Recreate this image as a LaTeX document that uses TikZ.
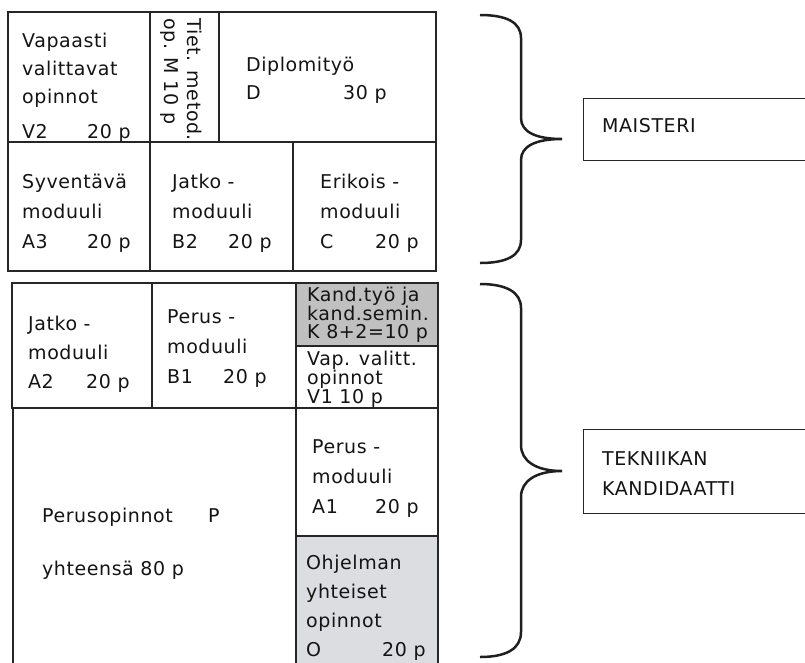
\documentclass[tikz,border=0pt]{standalone}
\usepackage{fontspec}
\setmainfont{DejaVu Sans}[LetterSpace=3.0]
\usepackage{tikz}

\definecolor{linegray}{HTML}{262626}
\definecolor{kandgray}{HTML}{C0C0C0}
\definecolor{ohjgray}{HTML}{DCDDE0}
\definecolor{inkgray}{HTML}{141414}

\newcommand{\tabp}[3]{\makebox[#1][l]{#2}#3}

\tikzset{
  cell/.style={draw=linegray, line width=2.2pt, anchor=north west, inner sep=0pt, outer sep=0pt},
  txt/.style={font=\fontsize{19}{#1}\selectfont, text=inkgray, align=left, anchor=north west, inner sep=0pt},
  txt/.default=30,
  degree/.style={draw=linegray, line width=1.3pt, anchor=north west, inner sep=0pt},
  brace/.style={draw=black!88, line width=2.5pt}
}

\begin{document}
\begin{tikzpicture}[x=1pt, y=-1pt]
  \useasboundingbox (0,0) rectangle (805,662);
  \clip (0,0) rectangle (805,662);

  % maisteri
  \node[cell, minimum width=142pt, minimum height=130pt] (v2) at (8,12) {};
  \node[cell, minimum width=69pt, minimum height=130pt] (m) at (150,12) {};
  \node[cell, minimum width=217pt, minimum height=130pt] (d) at (219,12) {};
  \node[cell, minimum width=142pt, minimum height=129pt] (a3) at (8,142) {};
  \node[cell, minimum width=143pt, minimum height=129pt] (b2) at (150,142) {};
  \node[cell, minimum width=143pt, minimum height=129pt] (c) at (293,142) {};

  \node[txt=28] (v2t) at (22,33) {Vapaasti\\valittavat\\opinnot\\[7pt]\tabp{65pt}{V2}{20 p}};
  \node[txt=23, rotate=-90] (mt) at (202,18) {Tiet. metod.\\op. M 10 p};
  \node[txt=28] (dt) at (246,57) {Diplomityö\\\tabp{97pt}{D}{30 p}};
  \node[txt] (a3t) at (22,174) {Syventävä\\moduuli\\\tabp{65pt}{A3}{20 p}};
  \node[txt] (b2t) at (172,174) {Jatko -\\moduuli\\\tabp{56pt}{B2}{20 p}};
  \node[txt] (ct) at (320,174) {Erikois -\\moduuli\\\tabp{55pt}{C}{20 p}};

  % kandidaatti
  \node[cell, minimum width=140pt, minimum height=125pt] (a2) at (12,283) {};
  \node[cell, minimum width=144pt, minimum height=125pt] (b1) at (152,283) {};
  \node[cell, fill=kandgray, minimum width=142pt, minimum height=63pt] (k) at (296,283) {};
  \node[cell, minimum width=142pt, minimum height=62pt] (v1) at (296,346) {};
  \node[cell, minimum width=283pt, minimum height=262pt] (p) at (13,408) {};
  \node[cell, minimum width=142pt, minimum height=128pt] (a1) at (296,408) {};
  \node[cell, fill=ohjgray, minimum width=142pt, minimum height=134pt] (o) at (296,536) {};

  \node[txt=29] (a2t) at (28,316) {Jatko -\\moduuli\\\tabp{58pt}{A2}{20 p}};
  \node[txt] (b1t) at (167,309) {Perus -\\moduuli\\\tabp{56pt}{B1}{20 p}};
  \node[txt=18.5] (kt) at (307,287) {Kand.työ ja\\kand.semin.\\K 8+2=10 p};
  \node[txt=19] (v1t) at (307,351) {Vap. valitt.\\opinnot\\V1 10 p};
  \node[txt] (pt) at (42,508) {\tabp{166pt}{Perusopinnot}{P}\\[23pt]yhteensä 80 p};
  \node[txt] (a1t) at (312,439) {Perus -\\moduuli\\\tabp{63pt}{A1}{20 p}};
  \node[txt=29] (ot) at (306,555) {Ohjelman\\yhteiset\\opinnot\\\tabp{76pt}{O}{20 p}};

  % braces and degrees
  \draw[brace] (480,15) .. controls (506,15) and (521,22) .. (521,38) -- (521,118)
    .. controls (521,132) and (536,139) .. (562,139)
    .. controls (536,139) and (521,146) .. (521,160) -- (521,240)
    .. controls (521,256) and (506,263) .. (480,263);
  \draw[brace] (480,284) .. controls (506,284) and (521,292) .. (521,308) -- (521,445)
    .. controls (521,461) and (536,471) .. (562,471)
    .. controls (536,471) and (521,481) .. (521,497) -- (521,632)
    .. controls (521,649) and (506,657) .. (480,657);

  \node[degree, minimum width=226pt, minimum height=62pt] (mai) at (583,98) {};
  \node[degree, minimum width=226pt, minimum height=84pt] (tek) at (583,429) {};
  \node[txt] (mait) at (602,118) {MAISTERI};
  \node[txt] (tekt) at (602,451) {TEKNIIKAN\\KANDIDAATTI};
\end{tikzpicture}
\end{document}
